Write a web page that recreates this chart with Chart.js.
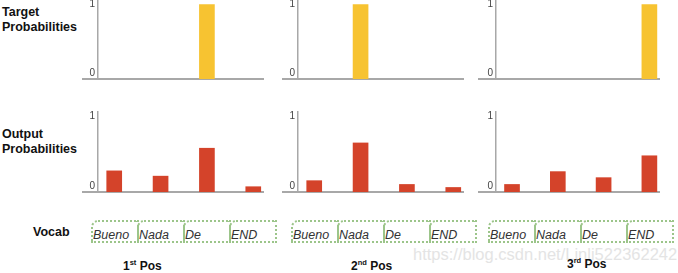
<!DOCTYPE html>
<html>
<head>
<meta charset="utf-8">
<script src="https://cdn.jsdelivr.net/npm/chart.js@4.4.1/dist/chart.umd.min.js"></script>
<style>
  body { margin: 0; background: #fff; }
  #page { position: relative; width: 678px; height: 273px; overflow: hidden; font-family: 'Liberation Sans', Arial, sans-serif; }
  canvas { position: absolute; }
  .label { position: absolute; font-weight: bold; font-size: 12.5px; line-height: 15px; color: #111; }
  .box { position: absolute; top: 220px; height: 23px; width: 48px; box-sizing: border-box;
         border: 2px dotted #9cc58a; border-top-left-radius: 7px; }
  .box span { position: absolute; left: 0px; top: 6px; font-style: italic; font-size: 12.5px; line-height: 15px; color: #333; }
  .pos { position: absolute; top: 259px; font-weight: bold; font-size: 12px; line-height: 15px; color: #111; white-space: nowrap; }
  .pos sup { font-size: 7.5px; vertical-align: baseline; position: relative; top: -5px; }
  .mark { position: absolute; left: 413px; top: 244px; font-size: 16.5px; line-height: 20px; color: #e4e4e4; white-space: nowrap; }
</style>
</head>
<body>
<div id="page">
  <div class="mark">https://blog.csdn.net/Linli522362242</div>
  <div class="label" style="left:2px; top:5px;">Target<br>Probabilities</div>
  <div class="label" style="left:2px; top:127px;">Output<br>Probabilities</div>
  <div class="label" style="left:33px; top:225px;">Vocab</div>
</div>

<script>
// Vocabulary shared by all six little charts
const categories = ['Bueno', 'Nada', 'De', 'END'];
const yTicks = [0, 1];

// Target (one-hot) per output position
const target1 = [0, 0, 1, 0];
const target2 = [0, 1, 0, 0];
const target3 = [0, 0, 0, 1];

// Model output probabilities per position
const output1 = [0.28, 0.21, 0.58, 0.07];
const output2 = [0.15, 0.65, 0.10, 0.06];
const output3 = [0.10, 0.27, 0.19, 0.48];

const posNumbers = ['1', '2', '3'];
const posSuffix = ['st', 'nd', 'rd'];

// layout of the three columns (pixels)
const axisX = [98, 298, 496];
const axisEnd = [263, 463, 659];
const stubLen = [16, 16, 18];
const boxLeft = [91, 291, 488];
const posLeft = [123, 351, 567];

const YELLOW = '#f7c331';
const RED = '#d4432a';
const AXIS = '#a8a8a8';

Chart.defaults.font.family = "'Liberation Sans', Arial, sans-serif";

// extends the x axis line a little to the left of the y axis
const axisStub = {
    id: 'axisStub',
    afterDraw(chart, args, opts) {
        const ctx = chart.ctx;
        const y = chart.scales.x.top;
        ctx.save();
        ctx.strokeStyle = AXIS;
        ctx.lineWidth = 2;
        ctx.beginPath();
        ctx.moveTo(chart.chartArea.left - opts.length, y);
        ctx.lineTo(chart.chartArea.left, y);
        ctx.stroke();
        ctx.restore();
    }
};

const page = document.getElementById('page');

function makeChart(col, top, height, values, color) {
    const canvas = document.createElement('canvas');
    const left = axisX[col] - 22;
    const width = axisEnd[col] + 1 - left;
    canvas.width = width;
    canvas.height = height;
    canvas.style.left = left + 'px';
    canvas.style.top = top + 'px';
    canvas.style.width = width + 'px';
    canvas.style.height = height + 'px';
    page.appendChild(canvas);

    return new Chart(canvas.getContext('2d'), {
        type: 'bar',
        data: {
            datasets: [{
                // zero bars are left out so nothing is drawn on the axis
                data: categories.map((c, i) => ({ x: i, y: values[i] === 0 ? null : values[i] })),
                backgroundColor: color,
                borderWidth: 0,
                barThickness: 15
            }]
        },
        plugins: [axisStub],
        options: {
            responsive: false,
            animation: false,
            layout: { padding: { left: 0, right: 1, top: 2, bottom: 4 } },
            scales: {
                x: {
                    type: 'linear',
                    offset: false,
                    min: -0.35,
                    max: 3.21,
                    ticks: { display: false },
                    grid: { display: false, drawTicks: false, offset: false },
                    border: { color: AXIS, width: 2 },
                    afterFit: function(s) {
                        s.height = 0;
                        s.paddingLeft = 0;
                        s.paddingRight = 0;
                    }
                },
                y: {
                    min: 0,
                    max: 1.06,
                    afterBuildTicks: function(s) {
                        s.ticks = yTicks.map(v => ({ value: v }));
                    },
                    afterFit: function(s) {
                        s.width = 22;
                        s.paddingTop = 0;
                        s.paddingBottom = 0;
                    },
                    grid: { display: false, drawTicks: false },
                    border: { color: AXIS, width: 1.5 },
                    ticks: {
                        padding: 3,
                        color: '#444',
                        font: { size: 10 },
                        // the 0 sits just above the axis line
                        callback: v => v === 0 ? ['0', ''] : String(v)
                    }
                }
            },
            plugins: {
                legend: { display: false },
                tooltip: { enabled: false },
                axisStub: { length: stubLen[col] }
            }
        }
    });
}

const targets = [target1, target2, target3];
const outputs = [output1, output2, output3];

for (let c = 0; c < 3; c++) {
    makeChart(c, -2, 85, targets[c], YELLOW);
    makeChart(c, 110, 86, outputs[c], RED);

    // vocab boxes
    categories.forEach((word, i) => {
        const box = document.createElement('div');
        box.className = 'box';
        box.style.left = (boxLeft[c] + i * 46) + 'px';
        box.innerHTML = '<span>' + word + '</span>';
        page.appendChild(box);
    });

    const pos = document.createElement('div');
    pos.className = 'pos';
    pos.style.left = posLeft[c] + 'px';
    if (c === 2) pos.style.top = '257px';
    pos.innerHTML = posNumbers[c] + '<sup>' + posSuffix[c] + '</sup> Pos';
    page.appendChild(pos);
}
</script>
</body>
</html>
